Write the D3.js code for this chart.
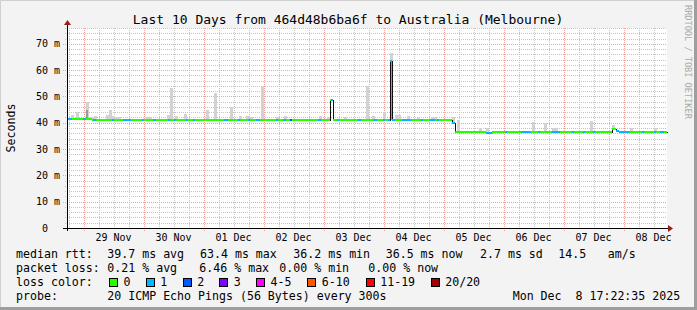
<html>
<head>
<meta charset="utf-8">
<title>smokeping</title>
<script src="https://cdn.jsdelivr.net/npm/d3@7/dist/d3.min.js"></script>
<style>
  body { margin: 0; background: #f3f3f3; }
  text { font-family: "DejaVu Sans Mono", monospace; white-space: pre; }
</style>
<script>
// ---- data ----
var startTime = "2025-11-28 17:22";
var endTime = "2025-12-08 17:22";

// median rtt (ms), step after each time
var medianTimes = ["2025-11-28 17:22", "2025-11-29 03:25", "2025-12-03 02:45", "2025-12-03 03:35",
  "2025-12-04 02:35", "2025-12-04 03:25", "2025-12-05 03:20", "2025-12-05 04:40",
  "2025-12-05 17:00", "2025-12-05 19:30", "2025-12-07 19:30", "2025-12-07 21:00", "2025-12-07 22:00"];
var medianValues = [41.6, 41.2, 48.5, 41.2, 63.4, 41.2, 40.0, 36.5, 36.1, 36.5, 37.6, 37.0, 36.5];

// periods with packet loss: start, end, lost pings
var lossStarts = ["2025-11-28 17:22", "2025-11-28 23:45", "2025-11-29 03:50", "2025-11-29 11:25", "2025-11-29 15:45",
  "2025-11-29 23:25", "2025-11-30 03:50", "2025-11-30 09:50", "2025-11-30 12:10", "2025-11-30 17:00",
  "2025-11-30 19:50", "2025-12-01 08:10", "2025-12-01 13:50", "2025-12-01 17:50", "2025-12-01 21:00",
  "2025-12-02 05:00", "2025-12-02 07:50", "2025-12-02 10:35", "2025-12-02 21:50", "2025-12-03 03:00",
  "2025-12-03 05:25", "2025-12-03 13:50", "2025-12-03 20:10", "2025-12-03 23:50", "2025-12-04 01:50",
  "2025-12-04 07:25", "2025-12-04 15:00", "2025-12-04 18:35", "2025-12-04 21:25", "2025-12-05 03:25",
  "2025-12-05 17:00", "2025-12-06 00:35", "2025-12-06 07:00", "2025-12-06 13:50", "2025-12-06 19:25",
  "2025-12-07 03:25", "2025-12-07 07:50", "2025-12-07 11:50", "2025-12-07 21:00", "2025-12-08 07:25",
  "2025-12-08 12:10", "2025-12-08 14:35"];
var lossEnds = ["2025-11-28 19:20", "2025-11-29 01:00", "2025-11-29 05:00", "2025-11-29 12:10", "2025-11-29 19:00",
  "2025-11-30 00:10", "2025-11-30 05:00", "2025-11-30 10:35", "2025-11-30 13:00", "2025-11-30 17:50",
  "2025-11-30 20:35", "2025-12-01 09:50", "2025-12-01 14:35", "2025-12-01 18:35", "2025-12-01 22:35",
  "2025-12-02 05:50", "2025-12-02 09:00", "2025-12-02 11:25", "2025-12-02 23:00", "2025-12-03 03:50",
  "2025-12-03 06:10", "2025-12-03 15:00", "2025-12-03 21:25", "2025-12-04 00:35", "2025-12-04 04:35",
  "2025-12-04 11:00", "2025-12-04 15:50", "2025-12-04 20:35", "2025-12-04 22:10", "2025-12-05 05:00",
  "2025-12-05 19:25", "2025-12-06 01:25", "2025-12-06 11:00", "2025-12-06 14:35", "2025-12-06 22:35",
  "2025-12-07 04:10", "2025-12-07 08:35", "2025-12-07 12:35", "2025-12-08 02:35", "2025-12-08 08:10",
  "2025-12-08 13:00", "2025-12-08 16:10"];
var lossCounts = [1, 1, 1, 1, 1, 1, 1, 1, 1, 1, 1, 1, 1, 1, 1, 1, 1, 2, 1, 1, 1, 1, 1, 1, 1,
  1, 1, 1, 1, 1, 1, 1, 1, 1, 1, 1, 1, 1, 1, 1, 1, 1];

// smoke peaks (highest ping of the step, ms)
var smokeTimes = ["2025-11-28 19:00", "2025-11-28 21:00", "2025-11-29 01:00", "2025-11-29 02:00", "2025-11-29 03:00",
  "2025-11-29 04:00", "2025-11-29 09:00", "2025-11-29 10:10", "2025-11-29 11:20", "2025-11-29 12:30",
  "2025-11-29 13:40", "2025-11-30 01:00", "2025-11-30 02:10", "2025-11-30 09:30", "2025-11-30 10:40",
  "2025-11-30 12:30", "2025-11-30 16:00", "2025-12-01 01:00", "2025-12-01 04:00", "2025-12-01 10:30",
  "2025-12-01 14:00", "2025-12-01 17:00", "2025-12-01 18:30", "2025-12-01 23:00", "2025-12-02 05:00",
  "2025-12-02 08:00", "2025-12-02 22:00", "2025-12-03 01:30", "2025-12-03 08:00", "2025-12-03 17:00",
  "2025-12-03 19:30", "2025-12-03 23:45", "2025-12-04 02:35", "2025-12-04 04:30", "2025-12-04 05:45",
  "2025-12-04 09:30", "2025-12-04 13:30", "2025-12-04 19:00", "2025-12-04 20:15", "2025-12-05 03:20",
  "2025-12-05 05:30", "2025-12-05 14:00", "2025-12-05 17:00", "2025-12-06 11:30", "2025-12-06 16:00",
  "2025-12-06 19:30", "2025-12-06 20:40", "2025-12-07 10:30", "2025-12-07 19:30", "2025-12-08 02:30",
  "2025-12-08 12:00"];
var smokeTops = [42.8, 44.0, 48.0, 42.2, 42.2, 42.5, 43.0, 45.0, 42.5, 42.0, 42.0, 42.2, 42.2, 43.0, 53.2,
  42.5, 43.3, 44.8, 51.3, 46.0, 42.5, 42.5, 42.2, 54.0, 42.2, 42.5, 42.5, 42.2, 42.2, 54.0,
  42.5, 44.0, 66.5, 43.0, 43.0, 42.5, 42.2, 42.2, 42.2, 42.0, 41.0, 38.0, 38.0, 40.3, 40.0,
  38.0, 38.0, 40.7, 39.2, 38.0, 38.0];
// dense (dark) smoke: most pings of the step up to this value
var denseTimes = ["2025-11-29 01:00", "2025-12-04 02:35"];
var denseTops = [45.0, 63.0];

var yTicks = [0, 10, 20, 30, 40, 50, 60, 70];
var lossLabels = ["0", "1", "2", "3", "4-5", "6-10", "11-19", "20/20"];
var lossColors = ["#26ff00", "#00b8ff", "#0059ff", "#7e00ff", "#ff00ff", "#ff5500", "#ff0000", "#a00000"];

var legendRows = [
  ["median rtt:", "39.7 ms avg", "63.4 ms max", "36.2 ms min", "36.5 ms now", "2.7 ms sd", "14.5", "am/s"],
  ["packet loss:", "0.21 % avg", "6.46 % max", "0.00 % min", "0.00 % now"],
  ["probe:", "20 ICMP Echo Pings (56 Bytes) every 300s", "Mon Dec  8 17:22:35 2025"]
];
var titleText = "Last 10 Days from 464d48b6ba6f to Australia (Melbourne)";

// ---- layout ----
var W = 697, H = 310;
var pLeft = 67, pRight = 667, pTop = 28, pBottom = 228;
var legendX = [
  [16, 107.3, 200, 293.3, 385.7, 480, 558.3, 607.7],
  [16, 107.3, 199.3, 279.3, 368.3],
  [16, 107.3, 512.7]
];
var legendBase = [258, 272, 299.5];
var boxX = [109, 145.7, 182.7, 219.3, 256, 307.3, 365.7, 430.7];

var parse = d3.utcParse("%Y-%m-%d %H:%M");

function draw() {
  var svg = d3.select("body").append("svg").attr("width", W).attr("height", H);
  svg.append("rect").attr("width", W).attr("height", H).attr("fill", "#f3f3f3");
  // frame
  svg.append("path").attr("d", "M0.5," + H + "V0.5H" + W).attr("stroke", "#cfcfcf").attr("stroke-width", 1).attr("fill", "none");
  svg.append("rect").attr("x", W - 3).attr("y", 0).attr("width", 3).attr("height", H).attr("fill", "#9e9e9e");
  svg.append("rect").attr("x", 0).attr("y", H - 3).attr("width", W).attr("height", 3).attr("fill", "#9e9e9e");

  var x = d3.scaleUtc().domain([parse(startTime), parse(endTime)]).range([pLeft, pRight]);
  var y = d3.scaleLinear().domain([0, 76]).range([pBottom, pTop]);
  var px = function (v) { return Math.round(v) + 0.5; };

  svg.append("rect").attr("x", pLeft).attr("y", pTop).attr("width", pRight - pLeft).attr("height", pBottom - pTop).attr("fill", "#ffffff");

  // grid
  var grid = svg.append("g").attr("shape-rendering", "crispEdges").attr("fill", "none").attr("stroke-dasharray", "1,1");
  var hours = d3.utcHour.every(6).range(x.domain()[0], x.domain()[1]);
  hours.forEach(function (h) {
    var major = h.getUTCHours() === 0;
    grid.append("line")
      .attr("x1", px(x(h))).attr("x2", px(x(h)))
      .attr("y1", pTop).attr("y2", pBottom + (major ? 3 : 2))
      .attr("stroke", major ? "#f2a0a0" : "#c4c4c4");
  });
  d3.range(2, 77, 2).forEach(function (v) {
    var major = v % 10 === 0;
    grid.append("line")
      .attr("x1", major ? pLeft - 4 : pLeft - 2).attr("x2", pRight)
      .attr("y1", px(y(v))).attr("y2", px(y(v)))
      .attr("stroke", major ? "#f2a0a0" : "#c4c4c4");
  });

  var medDates = medianTimes.map(parse);
  function medianAt(t) {
    var i = d3.bisectRight(medDates, t) - 1;
    return medianValues[Math.max(0, i)];
  }
  function lossAt(t) {
    for (var i = 0; i < lossStarts.length; i++) {
      if (t >= parse(lossStarts[i]) && t < parse(lossEnds[i])) return lossCounts[i];
    }
    return 0;
  }

  // smoke
  var smokeStep = 72 * 60 * 1000;
  function smokeBars(times, tops, fill, step) {
    svg.append("g").attr("shape-rendering", "crispEdges").selectAll("rect")
      .data(times.map(function (s, i) { return { t: parse(s), top: tops[i] }; }))
      .enter().append("rect")
      .attr("x", function (d) { return Math.round(x(d.t)); })
      .attr("width", function (d) { return Math.max(1, Math.round(x(new Date(+d.t + step)) - x(d.t))); })
      .attr("y", function (d) { return Math.round(y(d.top)); })
      .attr("height", function (d) { return Math.max(1, Math.round(y(medianAt(d.t) > d.top ? 41.2 : Math.min(41.2, medianAt(d.t)))) - Math.round(y(d.top))); })
      .attr("fill", fill);
  }
  smokeBars(smokeTimes, smokeTops, "#d2d2d2", smokeStep);
  smokeBars(denseTimes, denseTops, "#9a9a9a", 50 * 60 * 1000);

  // median line (black, step)
  var medPts = medianTimes.map(function (s, i) { return [parse(s), medianValues[i]]; });
  medPts.push([x.domain()[1], medianValues[medianValues.length - 1]]);
  svg.append("path")
    .attr("d", d3.line().x(function (d) { return px(x(d[0])); }).y(function (d) { return px(y(d[1])); }).curve(d3.curveStepAfter)(medPts))
    .attr("fill", "none").attr("stroke", "#111").attr("stroke-width", 1).attr("shape-rendering", "crispEdges");

  // coloured median segments by loss
  var cuts = medDates.concat(lossStarts.map(parse), lossEnds.map(parse), [x.domain()[1]]);
  cuts.sort(function (a, b) { return a - b; });
  var segs = [];
  for (var i = 0; i < cuts.length - 1; i++) {
    if (+cuts[i + 1] <= +cuts[i]) continue;
    segs.push({ t0: cuts[i], t1: cuts[i + 1], v: medianAt(cuts[i]), loss: lossAt(cuts[i]) });
  }
  function colorFor(l) {
    if (l <= 0) return lossColors[0];
    if (l <= 3) return lossColors[l];
    if (l <= 5) return lossColors[4];
    if (l <= 10) return lossColors[5];
    if (l <= 19) return lossColors[6];
    return lossColors[7];
  }
  svg.append("g").attr("shape-rendering", "crispEdges").selectAll("rect").data(segs).enter().append("rect")
    .attr("x", function (d) { return Math.round(x(d.t0)); })
    .attr("width", function (d) { return Math.max(1, Math.round(x(d.t1)) - Math.round(x(d.t0))); })
    .attr("y", function (d) { return Math.round(y(d.v)) - 1; })
    .attr("height", 2)
    .attr("fill", function (d) { return colorFor(d.loss); });

  // axes
  var ax = svg.append("g").attr("shape-rendering", "crispEdges");
  ax.append("line").attr("x1", pLeft + 0.5).attr("x2", pLeft + 0.5).attr("y1", pBottom + 3).attr("y2", pTop - 4).attr("stroke", "#000");
  ax.append("line").attr("x1", pLeft - 4).attr("x2", pRight + 2).attr("y1", pBottom + 0.5).attr("y2", pBottom + 0.5).attr("stroke", "#000");
  svg.append("path").attr("d", "M" + (pLeft - 3) + "," + (pTop - 3) + "L" + (pLeft + 4) + "," + (pTop - 3) + "L" + (pLeft + 0.5) + "," + (pTop - 8) + "Z").attr("fill", "#9b1c1c");
  svg.append("path").attr("d", "M" + (pRight + 1) + "," + (pBottom - 3) + "L" + (pRight + 1) + "," + (pBottom + 4) + "L" + (pRight + 6) + "," + (pBottom + 0.5) + "Z").attr("fill", "#9b1c1c");

  // y labels
  svg.append("g").selectAll("text").data(yTicks).enter().append("text")
    .attr("x", 60).attr("y", function (d) { return y(d) + 3.5; })
    .attr("text-anchor", "end").attr("font-size", "10px").attr("fill", "#000")
    .text(function (d) { return d === 0 ? "0  " : d + " m"; });

  // x labels at noon
  var days = d3.utcDay.range(x.domain()[0], x.domain()[1]);
  var fmt = d3.utcFormat("%d %b");
  svg.append("g").selectAll("text").data(days).enter().append("text")
    .attr("x", function (d) { return x(d3.utcHour.offset(d, 12)); }).attr("y", 241)
    .attr("text-anchor", "middle").attr("font-size", "10px").attr("fill", "#000")
    .text(function (d) { return fmt(d); });

  // title, y title, watermark
  svg.append("text").attr("x", 348).attr("y", 24).attr("text-anchor", "middle").attr("font-size", "13px").text(titleText);
  svg.append("text").attr("transform", "translate(14.5,128) rotate(-90)").attr("text-anchor", "middle").attr("font-size", "11.6px").text("Seconds");
  svg.append("text").attr("transform", "translate(685,5) rotate(90)").attr("font-size", "8.6px").attr("fill", "#aaaaaa").text("RRDTOOL / TOBI OETIKER");

  // legend
  legendRows.forEach(function (row, r) {
    row.forEach(function (s, j) {
      svg.append("text").attr("x", legendX[r][j]).attr("y", legendBase[r]).attr("font-size", "11.6px").text(s);
    });
  });
  svg.append("text").attr("x", 16).attr("y", 286).attr("font-size", "11.6px").text("loss color:");
  lossLabels.forEach(function (l, i) {
    svg.append("rect").attr("x", Math.round(boxX[i]) + 0.5).attr("y", 278.5).attr("width", 8).attr("height", 8)
      .attr("fill", lossColors[i]).attr("stroke", "#000").attr("shape-rendering", "crispEdges");
    svg.append("text").attr("x", boxX[i] + 14.5).attr("y", 286).attr("font-size", "11.6px").text(l);
  });
}
</script>
</head>
<body onload="draw();">
</body>
</html>
